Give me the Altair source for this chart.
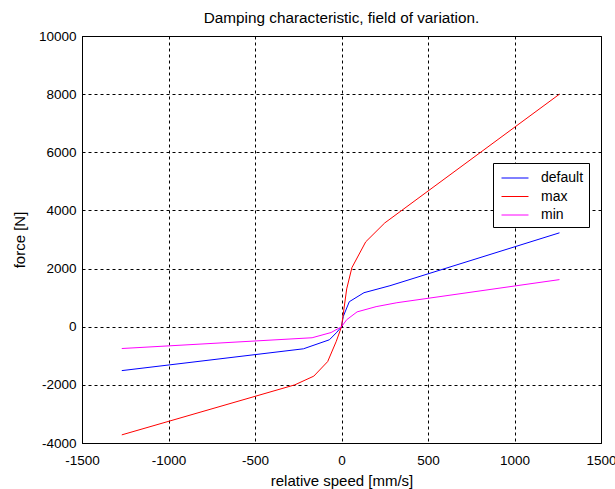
import altair as alt
import pandas as pd

# ---- data ----
speed_default = [-1270, -220, -70, -30, 0, 10, 45, 130, 280, 1260]
force_default = [-1510, -760, -450, -210, 0, 350, 860, 1170, 1410, 3230]

speed_max = [-1270, -270, -160, -80, -30, 0, 30, 60, 140, 250, 1260]
force_max = [-3720, -2000, -1700, -1200, -500, 0, 1300, 2030, 2920, 3570, 8000]

speed_min = [-1270, -170, -60, 0, 30, 90, 200, 320, 1260]
force_min = [-750, -380, -200, 0, 240, 510, 690, 825, 1620]

series_names = ["default", "max", "min"]
series_colors = ["#0000FF", "#FF0000", "#FF00FF"]

x_ticks = [-1500, -1000, -500, 0, 500, 1000, 1500]
y_ticks = [-4000, -2000, 0, 2000, 4000, 6000, 8000, 10000]

rows = []
for name, xs, ys in [("default", speed_default, force_default),
                     ("max", speed_max, force_max),
                     ("min", speed_min, force_min)]:
    for i, (x, y) in enumerate(zip(xs, ys)):
        rows.append({"series": name, "speed": x, "force": y, "ord": i})
df = pd.DataFrame(rows)

FONT = "Liberation Sans"

chart = alt.Chart(df).mark_line(strokeWidth=1).encode(
    x=alt.X("speed:Q",
            scale=alt.Scale(domain=[-1500, 1500], nice=False, zero=False),
            axis=alt.Axis(values=x_ticks, title="relative speed [mm/s]",
                          labelPadding=10, titlePadding=7,
                          labelExpr="'' + datum.value")),
    y=alt.Y("force:Q",
            scale=alt.Scale(domain=[-4000, 10000], nice=False, zero=False),
            axis=alt.Axis(values=y_ticks, title="force [N]",
                          labelPadding=6, titlePadding=11,
                          labelExpr="'' + datum.value")),
    color=alt.Color("series:N",
                    scale=alt.Scale(domain=series_names, range=series_colors),
                    legend=alt.Legend(title=None, orient="none",
                                      legendX=411, legendY=127,
                                      symbolType="M-1.42,0L1.42,0",
                                      symbolSize=361,
                                      symbolStrokeWidth=1,
                                      symbolOffset=7,
                                      labelFontSize=14, labelFont=FONT,
                                      labelColor="black", labelOffset=16,
                                      padding=5, rowPadding=1.5,
                                      strokeColor="black", fillColor="white",
                                      cornerRadius=0)),
    order="ord:Q",
).properties(
    width=519,
    height=407,
    title=alt.TitleParams("Damping characteristic, field of variation.",
                          fontSize=15.3, fontWeight="normal", font=FONT,
                          color="black", offset=3),
    padding={"left": 82, "top": 36, "right": 14, "bottom": 46},
    autosize=alt.AutoSizeParams(type="none"),
    background="white",
).configure_axis(
    domainColor="black",
    domainWidth=1,
    gridColor="black",
    gridDash=[3, 3],
    gridOpacity=1,
    gridWidth=1,
    tickSize=0,
    labelFont=FONT,
    labelFontSize=13.5,
    labelColor="black",
    titleFont=FONT,
    titleFontSize=15,
    titleFontWeight="normal",
    titleColor="black",
    labelFlush=False,
    labelOverlap=False,
).configure_view(
    stroke="black",
    strokeWidth=1,
)

chart.save("out.html", embed_options={"renderer": "svg", "actions": False})
